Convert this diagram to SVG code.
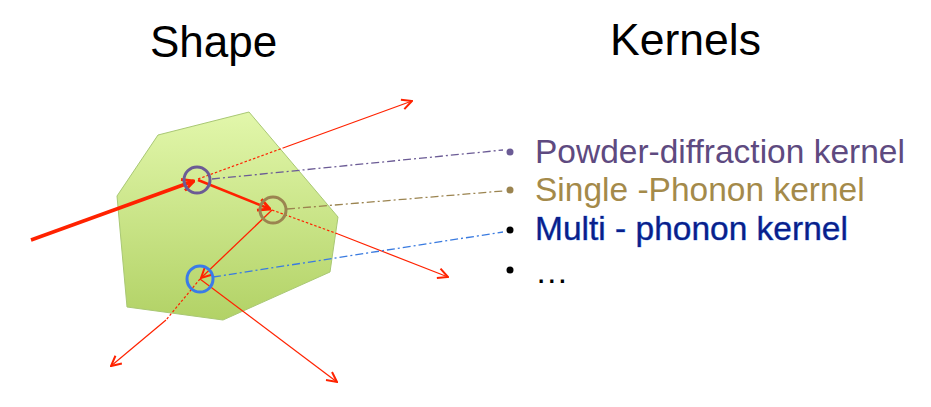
<svg xmlns="http://www.w3.org/2000/svg" width="931" height="407" viewBox="0 0 931 407">
<defs>
<linearGradient id="g" x1="0" y1="0" x2="0" y2="1">
<stop offset="0" stop-color="#e2f7ab"/>
<stop offset="1" stop-color="#b2d266"/>
</linearGradient>
<marker id="arr" viewBox="0 0 12 12" refX="11" refY="6" markerWidth="12" markerHeight="12" markerUnits="userSpaceOnUse" orient="auto">
<path d="M1,1 L11,6 L1,11" fill="none" stroke="#ff2200" stroke-width="2"/>
</marker>
<marker id="arrB" viewBox="0 0 12 12" refX="11" refY="6" markerWidth="14" markerHeight="14" markerUnits="userSpaceOnUse" orient="auto">
<path d="M1,1 L11,6 L1,11" fill="none" stroke="#ff2200" stroke-width="2.4"/>
</marker>
</defs>
<style>
.t{font-family:"Liberation Sans",Arial,sans-serif}
.k{font-size:33.5px}
.red{stroke:#ff2200;fill:none}
.dot{stroke-dasharray:2.5 2}
.dd{fill:none;stroke-width:1.3;stroke-dasharray:8 3 2 3}
</style>
<rect width="931" height="407" fill="#ffffff"/>
<text class="t" x="150" y="57" font-size="44" fill="#000">Shape</text>
<text class="t" x="610" y="55" font-size="44.5" fill="#000">Kernels</text>

<g id="shape">
<polygon points="158,135 249,112 338,217 330,272 223,320 127,307 117,196" fill="url(#g)" stroke="#a9c874" stroke-width="1"/>
</g>

<g id="connectors">
<line class="red" x1="31" y1="240" x2="194" y2="181" stroke-width="3.5" marker-end="url(#arrB)"/>
<line class="red" x1="198" y1="180" x2="270" y2="209" stroke-width="2.5" marker-end="url(#arrB)"/>
<line class="red" x1="272" y1="210" x2="201" y2="278" stroke-width="1.3" marker-end="url(#arr)"/>
<line class="red dot" x1="198" y1="179" x2="283" y2="148" stroke-width="1.2"/>
<line class="red" x1="283" y1="148" x2="412" y2="101" stroke-width="1.2" marker-end="url(#arr)"/>
<line class="red dot" x1="272" y1="210" x2="338" y2="234" stroke-width="1.2"/>
<line class="red" x1="338" y1="234" x2="448" y2="277" stroke-width="1.2" marker-end="url(#arr)"/>
<line class="red dot" x1="200" y1="279" x2="166" y2="320" stroke-width="1.2"/>
<line class="red" x1="166" y1="320" x2="111" y2="366" stroke-width="1.2" marker-end="url(#arr)"/>
<line class="red" x1="200" y1="279" x2="337" y2="382" stroke-width="1.2" marker-end="url(#arr)"/>
<line class="dd" x1="212" y1="179" x2="503" y2="150" stroke="#6b5b95"/>
<line class="dd" x1="287" y1="209" x2="503" y2="191" stroke="#9b8450"/>
<line class="dd" x1="213" y1="277" x2="503" y2="232" stroke="#3a7be0"/>
</g>

<g id="n-purple"><circle cx="197" cy="180" r="13" fill="none" stroke="#6b5b95" stroke-width="3"/></g>
<g id="n-brown"><circle cx="273" cy="210" r="13" fill="none" stroke="#9b8450" stroke-width="3"/></g>
<g id="n-blue"><circle cx="200" cy="279" r="13" fill="none" stroke="#3a7be8" stroke-width="3"/></g>

<g id="k-powder">
<circle cx="510" cy="152" r="3.5" fill="#6b5b95"/>
<text class="t k" x="535" y="163" fill="#5e4a80">Powder-diffraction kernel</text>
</g>
<g id="k-single">
<circle cx="510" cy="190" r="3.5" fill="#9b8450"/>
<text class="t k" x="535" y="201" fill="#a48a4a">Single -Phonon kernel</text>
</g>
<g id="k-multi">
<circle cx="510" cy="230" r="3.5" fill="#000"/>
<text class="t k" x="535" y="240" fill="#0a1f8a" stroke="#4d8ef0" stroke-width="0.6" paint-order="stroke">Multi - phonon kernel</text>
</g>
<g id="k-more">
<circle cx="510" cy="270" r="3.5" fill="#000"/>
<text class="t k" x="535" y="283" fill="#000">…</text>
</g>
</svg>
